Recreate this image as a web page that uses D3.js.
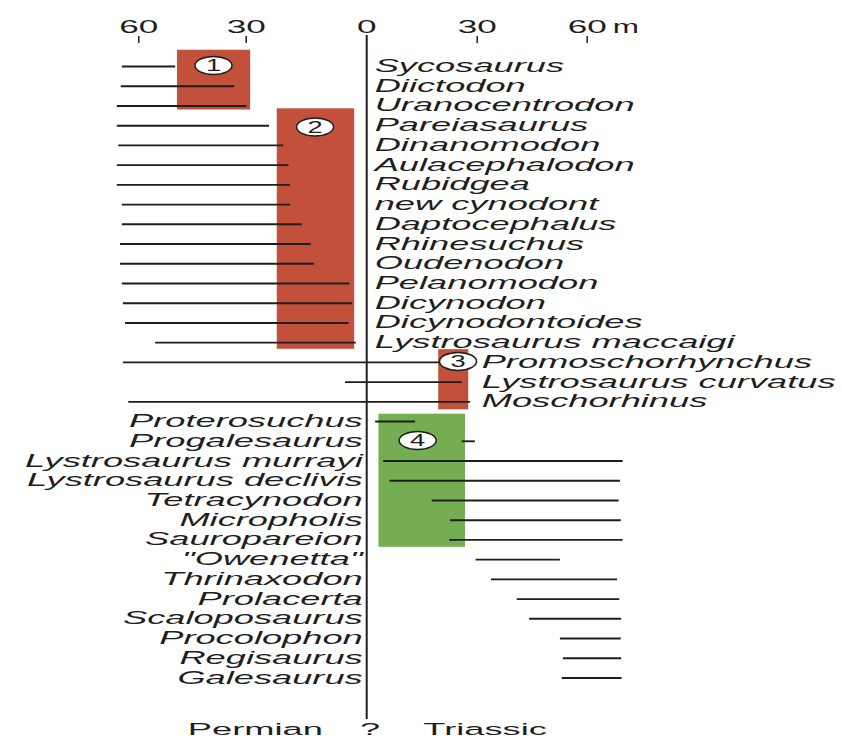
<!DOCTYPE html>
<html>
<head>
<meta charset="utf-8">
<script src="https://cdn.jsdelivr.net/npm/d3@7"></script>
<style>
  html, body { margin: 0; padding: 0; background: #fff; }
  svg { display: block; }
</style>
</head>
<body>
<div id="chart"></div>
<script>
// taxa, top to bottom
const taxa = [
  'Sycosaurus', 'Diictodon', 'Uranocentrodon', 'Pareiasaurus', 'Dinanomodon',
  'Aulacephalodon', 'Rubidgea', 'new cynodont', 'Daptocephalus', 'Rhinesuchus',
  'Oudenodon', 'Pelanomodon', 'Dicynodon', 'Dicynodontoides', 'Lystrosaurus maccaigi',
  'Promoschorhynchus', 'Lystrosaurus curvatus', 'Moschorhinus',
  'Proterosuchus', 'Progalesaurus', 'Lystrosaurus murrayi', 'Lystrosaurus declivis',
  'Tetracynodon', 'Micropholis', 'Sauropareion', '"Owenetta"', 'Thrinaxodon',
  'Prolacerta', 'Scaloposaurus', 'Procolophon', 'Regisaurus', 'Galesaurus'
];
// label group: 0 = Permian (right of line), 1 = crossing, 2 = Triassic (left of line)
const labelGroup = [0,0,0,0,0,0,0,0,0,0,0,0,0,0,0, 1,1,1, 2,2,2,2,2,2,2,2,2,2,2,2,2,2];

// stratigraphic range of each taxon, metres below (-) / above (+) the boundary
const rangeFrom = [
  -64.6, -64.9, -66.0, -66.0, -65.6, -66.0, -66.0, -64.6, -64.6, -65.1,
  -65.1, -64.6, -64.3, -63.7, -55.3,
  -64.3, -5.4, -62.8,
  2.3, 25.9, 4.5, 6.2, 17.7, 22.7, 22.5, 29.7, 33.9, 40.9, 44.3, 52.7, 53.5, 53.2
];
const rangeTo = [
  -49.7, -33.2, -29.8, -24.2, -20.7, -19.4, -19.0, -19.0, -16.1, -13.9,
  -13.1, -4.3, -3.6, -4.5, -2.7,
  20.0, 25.9, 28.2,
  13.2, 29.5, 69.8, 69.1, 68.7, 69.3, 69.8, 52.7, 68.3, 68.9, 69.4, 69.3, 69.4, 69.5
];

// assemblage zones
const zoneNames = ['1', '2', '3', '4'];
const zoneFrom = [-49.2, -22.3, 19.5, 3.2];
const zoneTo = [-28.9, -3.1, 27.7, 26.8];
const zoneTopRow = [-0.85, 2.12, 14.33, 17.6];
const zoneBottomRow = [2.18, 14.31, 17.38, 24.35];
const zoneLabelM = [-39.0, -12.8, 24.9, 13.9];
const zoneLabelRow = [-0.05, 3.07, 14.95, 18.96];
const zonePeriod = ['Permian', 'Permian', 'Permian', 'Triassic'];

// scale ticks
const tickValues = [-60, -30, 0, 30, 60];
const tickLabels = ['60', '30', '0', '30', '60'];
const periods = ['Permian', '?', 'Triassic'];
const periodM = [-27.6, 0.9, 32.3];

const width = 842, height = 738;
const ink = '#1e1e1e';
const zoneColor = { Permian: '#c3503a', Triassic: '#75ae52' };
const fontFamily = "'Liberation Sans', Arial, Helvetica, sans-serif";
const stretch = 1.96;

const svg = d3.select('#chart').append('svg')
  .attr('width', width)
  .attr('height', height);

// the source figure is uneven left/right, so a piecewise scale
const x = d3.scaleLinear()
  .domain(tickValues)
  .range([138.3, 245.7, 366.7, 476.7, 586.7]);

const y = d3.scaleLinear()
  .domain([0, taxa.length - 1])
  .range([66.5, 678]);

// zones
const zones = zoneNames.map((n, i) => ({
  name: n, from: zoneFrom[i], to: zoneTo[i],
  top: zoneTopRow[i], bottom: zoneBottomRow[i],
  lm: zoneLabelM[i], lr: zoneLabelRow[i], period: zonePeriod[i]
}));

svg.append('g').selectAll('rect')
  .data(zones)
  .enter().append('rect')
  .attr('x', d => x(d.from))
  .attr('y', d => y(d.top))
  .attr('width', d => x(d.to) - x(d.from))
  .attr('height', d => y(d.bottom) - y(d.top))
  .attr('fill', d => zoneColor[d.period]);

// range lines
const rows = taxa.map((t, i) => ({ name: t, i: i, from: rangeFrom[i], to: rangeTo[i], g: labelGroup[i] }));

svg.append('g').selectAll('line')
  .data(rows)
  .enter().append('line')
  .attr('x1', d => x(d.from))
  .attr('x2', d => x(d.to))
  .attr('y1', d => y(d.i))
  .attr('y2', d => y(d.i))
  .attr('stroke', ink)
  .attr('stroke-width', 1.9);

// boundary line
svg.append('line')
  .attr('x1', x(0)).attr('x2', x(0))
  .attr('y1', 35).attr('y2', 719)
  .attr('stroke', ink)
  .attr('stroke-width', 2);

// top scale
const xAxis = d3.axisTop(x)
  .tickValues(tickValues.filter(v => v !== 0))
  .tickFormat(d => tickLabels[tickValues.indexOf(d)])
  .tickSize(7)
  .tickPadding(3);

const axisG = svg.append('g')
  .attr('transform', 'translate(0,43)')
  .call(xAxis);
axisG.select('.domain').remove();
axisG.selectAll('.tick line').attr('stroke', ink).attr('stroke-width', 1.5);
axisG.selectAll('.tick text')
  .attr('fill', ink)
  .style('font-family', fontFamily)
  .style('font-size', '18.5px')
  .attr('transform', 'scale(1.9,1)');

svg.append('text')
  .attr('transform', 'translate(' + x(0) + ',33) scale(1.9,1)')
  .attr('text-anchor', 'middle')
  .attr('fill', ink)
  .style('font-family', fontFamily)
  .style('font-size', '18.5px')
  .text('0');

svg.append('text')
  .attr('transform', 'translate(' + (x(60) + 26) + ',33) scale(1.7,1)')
  .attr('fill', ink)
  .style('font-family', fontFamily)
  .style('font-size', '18.5px')
  .text('m');

// taxon names
function labelX(d) {
  if (d.g === 0) return x(0) + 8;
  if (d.g === 1) return x(30) + 5;
  return x(0) - 4;
}

svg.append('g').selectAll('text')
  .data(rows)
  .enter().append('text')
  .attr('transform', d => 'translate(' + labelX(d) + ',' + (y(d.i) + 5.5) + ') scale(' + stretch + ',1)')
  .attr('text-anchor', d => d.g === 2 ? 'end' : 'start')
  .attr('fill', ink)
  .style('font-family', fontFamily)
  .style('font-size', '18.5px')
  .style('font-style', 'italic')
  .text(d => d.name);

// zone numbers
const zl = svg.append('g').selectAll('g')
  .data(zones)
  .enter().append('g')
  .attr('transform', d => 'translate(' + x(d.lm) + ',' + y(d.lr) + ')');

zl.append('ellipse')
  .attr('rx', 18.5)
  .attr('ry', 9)
  .attr('fill', '#fff')
  .attr('stroke', ink)
  .attr('stroke-width', 1.5);

zl.append('text')
  .attr('transform', 'translate(0,5.5) scale(1.7,1)')
  .attr('text-anchor', 'middle')
  .attr('fill', ink)
  .style('font-family', fontFamily)
  .style('font-size', '16px')
  .text(d => d.name);

// periods at the bottom
svg.append('g').selectAll('text')
  .data(periods)
  .enter().append('text')
  .attr('transform', (d, i) => 'translate(' + x(periodM[i]) + ',735) scale(2.2,1)')
  .attr('text-anchor', 'middle')
  .attr('fill', ink)
  .style('font-family', fontFamily)
  .style('font-size', '16.5px')
  .text(d => d);
</script>
</body>
</html>
